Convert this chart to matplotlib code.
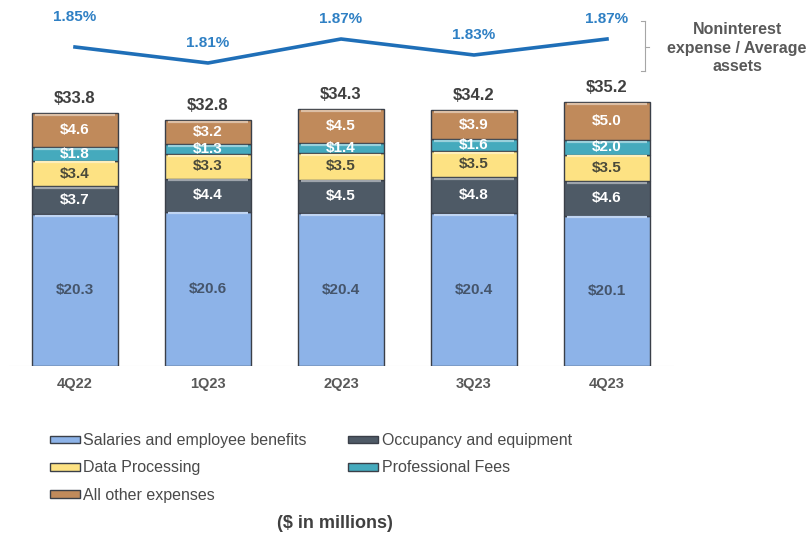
import matplotlib
matplotlib.use("Agg")
import matplotlib.pyplot as plt
import matplotlib.patches as mpatches
import matplotlib.colors as mcolors
import numpy as np

plt.rcParams['font.family'] = ['Liberation Sans', 'DejaVu Sans']

quarters = ['4Q22', '1Q23', '2Q23', '3Q23', '4Q23']
salaries = [20.3, 20.6, 20.4, 20.4, 20.1]
occupancy = [3.7, 4.4, 4.5, 4.8, 4.6]
data_processing = [3.4, 3.3, 3.5, 3.5, 3.5]
professional_fees = [1.8, 1.3, 1.4, 1.6, 2.0]
other_expenses = [4.6, 3.2, 4.5, 3.9, 5.0]
expense_ratio = [1.85, 1.81, 1.87, 1.83, 1.87]

series = [
    ('Salaries and employee benefits', salaries, '#8db3e8', '#45556b'),
    ('Occupancy and equipment', occupancy, '#4e5a66', 'white'),
    ('Data Processing', data_processing, '#fde283', '#4a4a3a'),
    ('Professional Fees', professional_fees, '#45aabd', 'white'),
    ('All other expenses', other_expenses, '#c08a5b', 'white'),
]

gray = '#595959'
line_blue = '#1f6fb8'


def lighten(c, amt=0.45):
    rgb = np.array(mcolors.to_rgb(c))
    return tuple(rgb + (1 - rgb) * amt)


fig = plt.figure(figsize=(8.09, 5.39), dpi=100)
fy = lambda p: 1 - p / 539

# stacked bars
ax = fig.add_axes([8.5 / 809, 173 / 539, 665 / 809, 299.5 / 539])
x = np.arange(len(quarters))
bottom = np.zeros(len(quarters))
handles = {}
width = 0.64
for name, vals, color, txt_color in series:
    vals = np.array(vals)
    ax.bar(x, vals, width, bottom=bottom, color=color,
           edgecolor='#3a3f48', linewidth=1.0, zorder=2)
    # light bevel along the top of each segment
    ax.hlines(bottom + vals - 0.22, x - width / 2 + 0.02, x + width / 2 - 0.02,
              color=lighten(color), linewidth=1.6, zorder=3)
    handles[name] = mpatches.Patch(facecolor=color, edgecolor='#3a3f48', label=name)
    for xi, b, v in zip(x, bottom, vals):
        ax.text(xi, b + v / 2, f"${v:.1f}", ha='center', va='center',
                fontsize=11, fontweight='bold', color=txt_color, zorder=4)
    bottom += vals

for xi, total in zip(x, bottom):
    ax.text(xi, total + 1.95, f"${total:.1f}", ha='center', va='center',
            fontsize=12, fontweight='bold', color='#404040')

ax.axhline(0, color='#e0e0e0', linewidth=0.8, zorder=1)
ax.set_xlim(-0.5, 4.5)
ax.set_ylim(0, 40)
ax.set_yticks([])
ax.set_xticks(x)
ax.set_xticklabels(quarters, fontsize=10.5, fontweight='bold', color=gray)
ax.tick_params(axis='x', length=0, pad=8)
for s in ax.spines.values():
    s.set_visible(False)

# noninterest expense / average assets line
lax = fig.add_axes([8.5 / 809, fy(90), 665 / 809, 80 / 539])
lax.plot(x, expense_ratio, color=line_blue, linewidth=2.6)
label_offsets = [30, 20, 20, 20, 20]  # points above the line, in pixels
for xi, v, off in zip(x, expense_ratio, label_offsets):
    lax.annotate(f"{v:.2f}%", (xi, v), xytext=(0, off * 0.72),
                 textcoords='offset points', ha='center', va='center',
                 fontsize=11, fontweight='bold', color='#2f80c4')
lax.set_xlim(-0.5, 4.5)
lax.set_ylim(1.7425, 1.9425)
lax.axis('off')

# bracket and label for the line
bx = 645 / 809
br = dict(color='#a6a6a6', linewidth=0.8)
fig.add_artist(plt.Line2D([bx, bx], [fy(21), fy(71)], **br))
for yy in (21, 71):
    fig.add_artist(plt.Line2D([bx - 4 / 809, bx], [fy(yy), fy(yy)], **br))
fig.add_artist(plt.Line2D([bx, bx + 4 / 809], [fy(47), fy(47)], **br))
fig.text(737 / 809, fy(48), "Noninterest\nexpense / Average\nassets",
         ha='center', va='center', fontsize=11.5, fontweight='bold', color=gray,
         linespacing=1.3)

# legend
order = ['Salaries and employee benefits', 'Data Processing', 'All other expenses',
         'Occupancy and equipment', 'Professional Fees']
fig.legend(handles=[handles[n] for n in order], loc='upper left',
           bbox_to_anchor=(47 / 809, fy(430)), ncol=2, frameon=False,
           fontsize=11.5, labelcolor='#4a4a4a', handlelength=1.88, handleheight=0.37,
           handletextpad=0.2, columnspacing=2.6, labelspacing=0.77,
           borderpad=0.2, borderaxespad=0)

fig.text(335 / 809, fy(523), "($ in millions)", ha='center', va='center',
         fontsize=13, fontweight='bold', color='#404040')

fig.savefig('out.png', dpi=100)
